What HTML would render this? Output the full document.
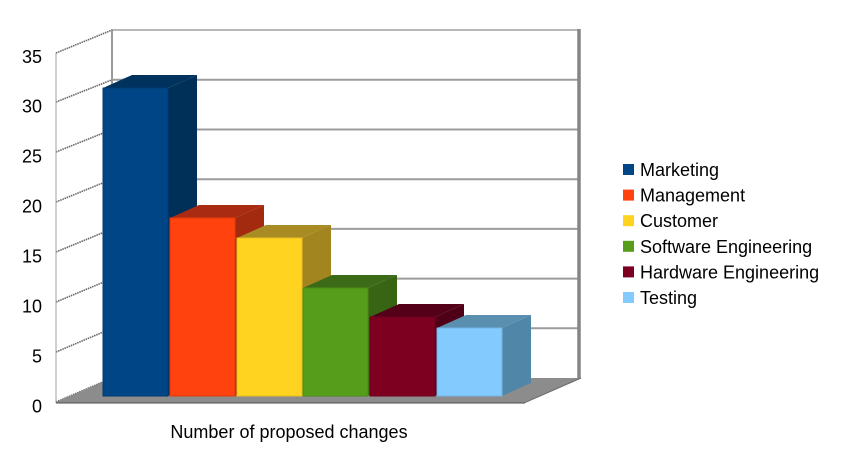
<!DOCTYPE html>
<html>
<head>
<meta charset="utf-8">
<style>
html,body{margin:0;padding:0;background:#fff;}
svg{display:block;}
text{font-family:"Liberation Sans",Arial,sans-serif;fill:#000;}
</style>
</head>
<body>
<svg width="866" height="457" viewBox="0 0 866 457" xmlns="http://www.w3.org/2000/svg">
  <rect width="866" height="457" fill="#fff"/>

  <!-- left wall gridlines (diagonal) -->
  <g stroke="#666" stroke-width="1.6" stroke-dasharray="1.5 0.8">
    <line x1="56" y1="402" x2="112" y2="378"/>
    <line x1="56" y1="352" x2="112" y2="328.3"/>
    <line x1="56" y1="302" x2="112" y2="278.6"/>
    <line x1="56" y1="252" x2="112" y2="228.9"/>
    <line x1="56" y1="202" x2="112" y2="179.2"/>
    <line x1="56" y1="152" x2="112" y2="129.5"/>
    <line x1="56" y1="102" x2="112" y2="79.8"/>
    <line x1="56" y1="53" x2="112" y2="30"/>
  </g>
  <!-- left wall front edge -->
  <line x1="56" y1="53" x2="56" y2="403" stroke="#a0a0a0" stroke-width="1"/>

  <!-- back wall gridlines -->
  <g stroke="#9c9c9c" stroke-width="2">
    <line x1="112" y1="79.8" x2="578" y2="79.8"/>
    <line x1="112" y1="129.5" x2="578" y2="129.5"/>
    <line x1="112" y1="179.2" x2="578" y2="179.2"/>
    <line x1="112" y1="228.9" x2="578" y2="228.9"/>
    <line x1="112" y1="278.6" x2="578" y2="278.6"/>
    <line x1="112" y1="328.3" x2="578" y2="328.3"/>
  </g>
  <line x1="112" y1="30" x2="578" y2="30" stroke="#b8b8b8" stroke-width="2"/>
  <!-- back wall left edge -->
  <line x1="112" y1="29" x2="112" y2="379" stroke="#9a9a9a" stroke-width="2"/>
  <!-- back wall right edge -->
  <line x1="579" y1="29" x2="579" y2="379" stroke="#858585" stroke-width="3.5"/>

  <!-- floor -->
  <polygon points="56,402 112,378 581,378 525,402" fill="#8c8c8c"/>
  <line x1="56" y1="402.8" x2="525" y2="402.8" stroke="#6e6e6e" stroke-width="1.6"/>
  <line x1="525" y1="402.5" x2="581" y2="378" stroke="#6e6e6e" stroke-width="1.2"/>

  <!-- bars -->
  <g stroke-linejoin="round">
    <!-- Marketing -->
    <polygon points="103,88 132,75 197,75 168,88" fill="#00325e"/>
    <polygon points="168,88 197,75 197,383 168,396" fill="#002f57"/>
    <rect x="103" y="88" width="65" height="308" fill="#004586" stroke="#003a70" stroke-width="1"/>
    <!-- Management -->
    <polygon points="170,218 199,205 264,205 235,218" fill="#a92b12"/>
    <polygon points="235,218 264,205 264,383 235,396" fill="#a3290f"/>
    <rect x="170" y="218" width="65" height="178" fill="#ff420e" stroke="#e53a0c" stroke-width="1"/>
    <!-- Customer -->
    <polygon points="237,238 266,225 331,225 302,238" fill="#a98b24"/>
    <polygon points="302,238 331,225 331,383 302,396" fill="#a38520"/>
    <rect x="237" y="238" width="65" height="158" fill="#ffd320" stroke="#e8bf1c" stroke-width="1"/>
    <!-- Software Engineering -->
    <polygon points="303,288 332,275 397,275 368,288" fill="#3c6b17"/>
    <polygon points="368,288 397,275 397,383 368,396" fill="#386514"/>
    <rect x="303" y="288" width="65" height="108" fill="#579d1c" stroke="#4d8c19" stroke-width="1"/>
    <!-- Hardware Engineering -->
    <polygon points="370,317 399,304 464,304 435,317" fill="#530018"/>
    <polygon points="435,317 464,304 464,383 435,396" fill="#4f0016"/>
    <rect x="370" y="317" width="65" height="79" fill="#7e0021" stroke="#70001d" stroke-width="1"/>
    <!-- Testing -->
    <polygon points="437,328 466,315 531,315 502,328" fill="#5a8fb0"/>
    <polygon points="502,328 531,315 531,383 502,396" fill="#5086a7"/>
    <rect x="437" y="328" width="65" height="68" fill="#83caff" stroke="#74b6e6" stroke-width="1"/>
  </g>

  <!-- y tick labels -->
  <g font-size="18" text-anchor="end">
    <text x="42" y="412.5">0</text>
    <text x="42" y="362.5">5</text>
    <text x="42" y="312.5">10</text>
    <text x="42" y="262.5">15</text>
    <text x="42" y="212.5">20</text>
    <text x="42" y="162.5">25</text>
    <text x="42" y="112.5">30</text>
    <text x="42" y="63">35</text>
  </g>

  <!-- x axis label -->
  <text x="289" y="438" font-size="18" text-anchor="middle">Number of proposed changes</text>

  <!-- legend -->
  <g font-size="18">
    <rect x="623" y="164" width="11" height="11" fill="#004586"/>
    <text x="640" y="176">Marketing</text>
    <rect x="623" y="189.6" width="11" height="11" fill="#ff420e"/>
    <text x="640" y="201.6">Management</text>
    <rect x="623" y="215.2" width="11" height="11" fill="#ffd320"/>
    <text x="640" y="227.2">Customer</text>
    <rect x="623" y="240.8" width="11" height="11" fill="#579d1c"/>
    <text x="640" y="252.8">Software Engineering</text>
    <rect x="623" y="266.4" width="11" height="11" fill="#7e0021"/>
    <text x="640" y="278.4">Hardware Engineering</text>
    <rect x="623" y="292" width="11" height="11" fill="#83caff"/>
    <text x="640" y="304">Testing</text>
  </g>
</svg>
</body>
</html>
